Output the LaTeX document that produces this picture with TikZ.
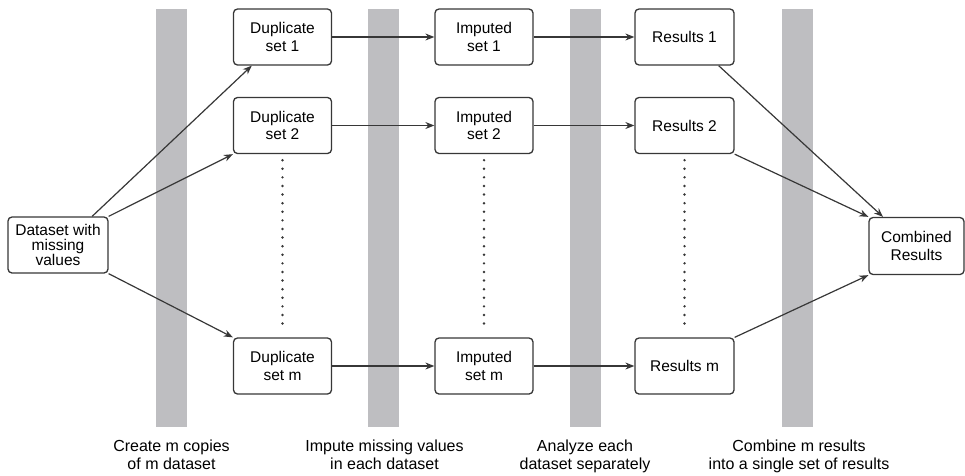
\documentclass[tikz,border=0pt]{standalone}
\usepackage{fontspec}
\setmainfont{Liberation Sans}
\usepackage{xcolor}
\usetikzlibrary{positioning}
\usetikzlibrary{calc}
\usetikzlibrary{arrows.meta}
\definecolor{bargray}{RGB}{190,190,193}
\definecolor{linegray}{RGB}{55,55,55}
\tikzset{
	setbox/.style={draw=linegray, line width=1.3pt, rounded corners=4pt, fill=white, align=center,
		minimum width=98pt, minimum height=56pt, inner sep=2pt, font=\fontsize{15.5}{17.5}\selectfont},
	flow/.style={draw=linegray, line width=1.2pt, -{Stealth[length=9pt,width=7pt]}},
	gap/.style={draw=linegray, line width=2.7pt, dash pattern=on 0pt off 8.6pt, line cap=round,
		shorten <=6pt, shorten >=6pt},
	steplabel/.style={align=center, anchor=north, inner sep=0pt, font=\fontsize{16}{17.5}\selectfont}
}

\begin{document}
\begin{tikzpicture}[x=1pt,y=-1pt]
			\useasboundingbox (0,0) rectangle (965,475);
			% draw grey bars
			\foreach \bx in {156,368,570,782}
				\fill[bargray] (\bx,9) rectangle ++(31,418);
			% draw boxes
			\node[setbox, minimum width=100pt, font=\fontsize{15.5}{15}\selectfont] (data) at (58,245) {Dataset with\\missing\\values};
			\node[setbox] (dup1) at (282.5,37) {Duplicate\\set 1};
			\node[setbox] (dup2) at (282.5,125.5) {Duplicate\\set 2};
			\node[setbox] (dupm) at (282.5,366) {Duplicate\\set m};
			\node[setbox] (imp1) at (484,37) {Imputed\\set 1};
			\node[setbox] (imp2) at (484,125.5) {Imputed\\set 2};
			\node[setbox] (impm) at (484,366) {Imputed\\set m};
			\node[setbox, minimum width=99pt] (res1) at (684.5,37) {Results 1};
			\node[setbox, minimum width=99pt] (res2) at (684.5,125.5) {Results 2};
			\node[setbox, minimum width=99pt] (resm) at (684.5,366) {Results m};
			\node[setbox, minimum width=95pt, minimum height=57pt] (comb) at (916.5,246) {Combined\\Results};
			% add arrows
			\draw[flow] (data.40) -- (dup1.223);
			\draw[flow] (data.north east) -- (dup2.south west);
			\draw[flow] (data.south east) -- (dupm.north west);
			\foreach \r in {1,2,m} {
				\draw[flow] (dup\r) -- (imp\r);
				\draw[flow] (imp\r) -- (res\r);
			}
			\draw[flow] (res1.320) -- (comb.139);
			\draw[flow] (res2.south east) -- (comb.north west);
			\draw[flow] (resm.north east) -- (comb.south west);
			% dotted gaps
			\draw[gap] (dup2) -- (dupm);
			\draw[gap] (imp2) -- (impm);
			\draw[gap] (res2) -- (resm);
			% step labels
			\node[steplabel] (lab1) at (171.5,440) {Create m copies\\of m dataset};
			\node[steplabel] (lab2) at (384.5,440) {Impute missing values\\in each dataset};
			\node[steplabel] (lab3) at (585,440) {Analyze each\\dataset separately};
			\node[steplabel] (lab4) at (799,440) {Combine m results\\into a single set of results};
		\end{tikzpicture}
\end{document}
